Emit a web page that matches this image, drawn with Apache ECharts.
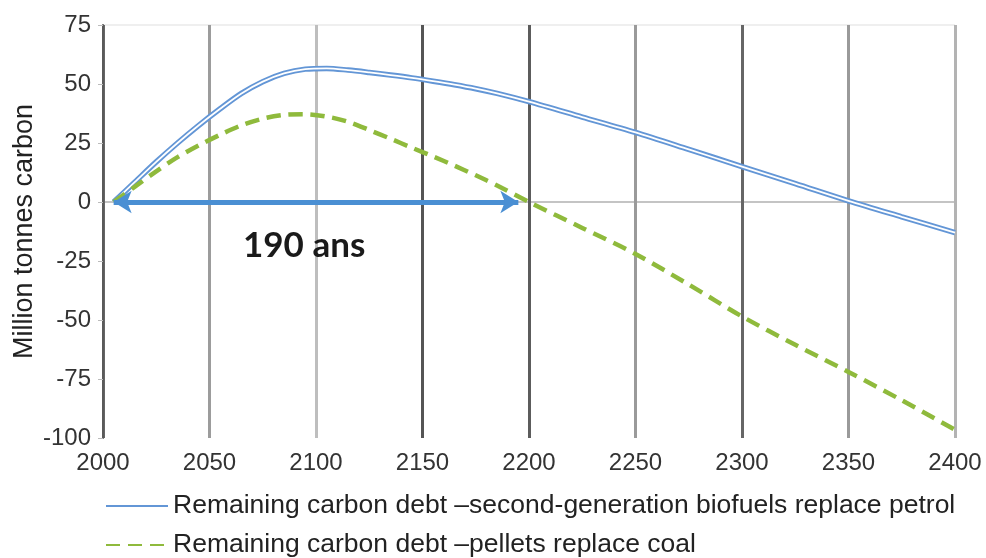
<!DOCTYPE html>
<html>
<head>
<meta charset="utf-8">
<script src="https://cdn.jsdelivr.net/npm/echarts@6/dist/echarts.min.js"></script>
<style>
  html, body { margin: 0; padding: 0; background: #ffffff; }
  #chart { width: 986px; height: 558px; }
</style>
</head>
<body>
<div id="chart"></div>
<script>
// Years sampled along both carbon-debt curves
const years = [2005, 2015, 2025, 2035, 2045, 2055, 2065, 2075, 2085, 2095, 2105, 2115, 2125, 2135, 2145, 2155, 2165, 2175, 2185,
               2200, 2225, 2250, 2275, 2300, 2325, 2350, 2375, 2400];
// Remaining carbon debt, second-generation biofuels replacing petrol (Mt C)
const biofuelDebt = [0, 8.5, 17, 25, 32.5, 39.5, 46, 51, 54.5, 56.3, 56.6, 55.9, 54.9, 53.8, 52.6, 51.2, 49.7, 48, 46,
                     42.5, 36, 29.5, 22.3, 15, 7.8, 0.5, -6.3, -13];
// Remaining carbon debt, pellets replacing coal (Mt C)
const pelletDebt = [0, 6.5, 13, 19, 24, 28.5, 32.5, 35.3, 36.9, 37.2, 36.2, 34, 30.5, 26.8, 23, 19.3, 15.4, 11.3, 7,
                    0, -11, -22, -35, -48.5, -60.5, -72, -84, -96.5];

// Payback span for the pellet scenario
const paybackStart = 2005;
const paybackEnd = 2195;
const paybackLabel = '190 ans';

const xTicks = { min: 2000, max: 2400, step: 50 };
const yTicks = { min: -100, max: 75, step: 25 };

const biofuelName = 'Remaining carbon debt \u2013second-generation biofuels replace petrol';
const pelletName = 'Remaining carbon debt \u2013pellets replace coal';

const pairs = (xs, ys) => xs.map((x, i) => [x, ys[i]]);

const chart = echarts.init(document.getElementById('chart'), null, { renderer: 'canvas' });

const blue = '#6396d6';
const green = '#8fba3c';
const arrowBlue = '#4a8fd3';
const none = 'rgba(0,0,0,0)';

const legendBase = {
  orient: 'vertical',
  left: 100,
  itemWidth: 62,
  itemHeight: 14,
  itemStyle: { color: none, borderWidth: 0 },
  textStyle: { fontFamily: 'Liberation Sans', fontSize: 26.5, lineHeight: 28, color: '#222222' }
};

chart.setOption({
  animation: false,
  backgroundColor: '#ffffff',
  grid: { left: 103, right: 31, top: 25, bottom: 120, containLabel: false },
  xAxis: {
    type: 'value',
    min: xTicks.min, max: xTicks.max, interval: xTicks.step,
    axisLine: { show: false, onZero: false },
    axisTick: { show: false },
    axisLabel: {
      margin: 13,
      fontFamily: 'Liberation Sans',
      fontSize: 24,
      color: '#333333',
      formatter: (v) => String(v)
    },
    splitLine: {
      show: true,
      showMinLine: true,
      showMaxLine: true,
      lineStyle: {
        width: 3,
        color: ['#666666', '#9c9c9c', '#bebebe', '#555555', '#5c5c5c', '#9a9a9a', '#666666', '#9a9a9a', '#b3b3b3']
      }
    }
  },
  yAxis: {
    type: 'value',
    min: yTicks.min, max: yTicks.max, interval: yTicks.step,
    name: 'Million tonnes carbon',
    nameLocation: 'middle',
    nameRotate: 90,
    nameGap: 65,
    nameMoveOverlap: false,
    nameTextStyle: { fontFamily: 'Liberation Sans', fontSize: 27, color: '#222222' },
    axisLine: { show: true, onZero: false, lineStyle: { color: '#5a5a5a', width: 2 } },
    axisTick: { show: true, length: 5, lineStyle: { color: '#bbbbbb', width: 1 } },
    axisLabel: {
      margin: 12,
      fontFamily: 'Liberation Sans',
      fontSize: 24,
      color: '#333333'
    },
    splitLine: {
      show: true,
      showMinLine: true,
      showMaxLine: true,
      lineStyle: {
        width: 2,
        color: [none, none, none, none, '#c4c4c4', none, none, '#efefef']
      }
    }
  },
  legend: [
    Object.assign({ top: 487, data: [biofuelName] }, legendBase),
    Object.assign({ top: 526, data: [pelletName] }, legendBase)
  ],
  series: [
    {
      name: biofuelName,
      type: 'line',
      data: pairs(years, biofuelDebt),
      smooth: 0.3,
      symbol: 'none',
      lineStyle: { color: blue, width: 5.5 },
      itemStyle: { color: blue },
      z: 3
    },
    {
      // white core that turns the blue stroke into a double line
      name: 'biofuel-core',
      type: 'line',
      data: pairs(years, biofuelDebt),
      smooth: 0.3,
      symbol: 'none',
      lineStyle: { color: '#ffffff', width: 1.8 },
      silent: true,
      z: 4
    },
    {
      name: pelletName,
      type: 'line',
      data: pairs(years, pelletDebt),
      smooth: 0.3,
      symbol: 'none',
      lineStyle: { color: green, width: 4.5, type: [14, 8] },
      itemStyle: { color: green },
      z: 5,
      markLine: {
        silent: true,
        symbol: ['arrow', 'arrow'],
        symbolSize: [17, 18],
        label: { show: false },
        lineStyle: { color: arrowBlue, width: 5, type: 'solid' },
        data: [[{ coord: [paybackStart, 0] }, { coord: [paybackEnd, 0] }]],
        z: 6
      }
    }
  ],
  graphic: [
    {
      type: 'text',
      left: 243,
      top: 228,
      z: 100,
      style: {
        text: paybackLabel,
        font: 'bold 35px Lato',
        fill: '#1a1a1a'
      }
    }
  ]
});
</script>
</body>
</html>
